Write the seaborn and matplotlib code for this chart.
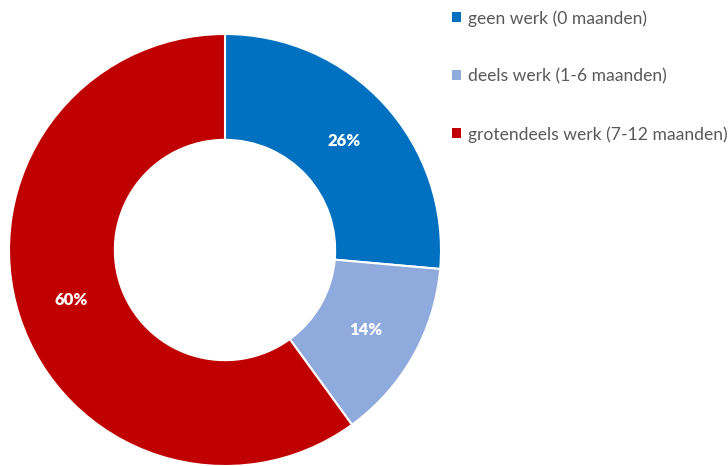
import matplotlib
matplotlib.use("Agg")
import matplotlib.pyplot as plt
import seaborn as sns
from matplotlib.patches import Patch

categories = ["geen werk (0 maanden)", "deels werk (1-6 maanden)", "grotendeels werk (7-12 maanden)"]
values = [26.4, 13.6, 60.0]
colors = ["#0070C0", "#8FAADC", "#C00000"]

sns.set_theme(style="white")
plt.rcParams['font.family'] = ['Lato', 'DejaVu Sans']

fig = plt.figure(figsize=(7.28, 4.66), dpi=100)
ax = fig.add_axes([9/728, 0/466, 432/728, 432/466])
wedges, texts, autotexts = ax.pie(
    values, colors=colors, startangle=90, counterclock=False,
    autopct="%.0f%%", pctdistance=0.75,
    wedgeprops=dict(width=0.49, edgecolor="white", linewidth=1.5),
    textprops=dict(color="white", fontsize=12, fontweight="heavy"),
)
ax.set_xlim(-1, 1)
ax.set_ylim(-1, 1)
ax.set_aspect("equal")
ax.axis("off")

handles = [Patch(facecolor=c, edgecolor="none") for c in colors]
fig.legend(handles, categories, loc="upper left", bbox_to_anchor=(452/728, 1 - 10/466),
           frameon=False, fontsize=12.6, labelcolor="#595959",
           handlelength=0.5, handleheight=0.5, handletextpad=0.4,
           labelspacing=2.38, borderaxespad=0, borderpad=0)

fig.savefig("out.png", dpi=100)
